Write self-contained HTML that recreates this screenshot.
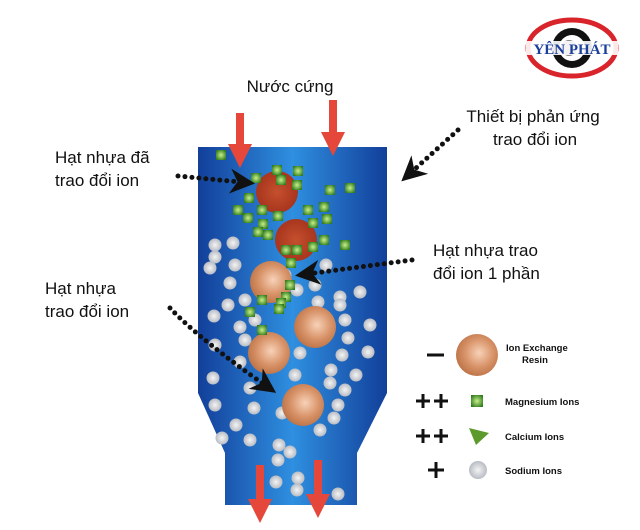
<!DOCTYPE html>
<html><head><meta charset="utf-8"><style>
body{margin:0;background:#fff;width:640px;height:530px;overflow:hidden}
svg{display:block}
text{font-family:"Liberation Sans","DejaVu Sans",sans-serif;fill:#111}
</style></head><body>
<svg width="640" height="530" viewBox="0 0 640 530" xmlns="http://www.w3.org/2000/svg">
<defs>
<linearGradient id="vg" x1="0" x2="1" y1="0" y2="0">
<stop offset="0" stop-color="#123f9a"/><stop offset="0.5" stop-color="#2f8fe0"/><stop offset="1" stop-color="#123f9a"/>
</linearGradient>
<radialGradient id="dr" cx="0.5" cy="0.5" r="0.5"><stop offset="0" stop-color="#c4502e"/><stop offset="1" stop-color="#a8351d"/></radialGradient>
<radialGradient id="lr" cx="0.55" cy="0.45" r="0.55"><stop offset="0" stop-color="#f7d2b8"/><stop offset="0.6" stop-color="#d9946a"/><stop offset="1" stop-color="#c0764a"/></radialGradient>
<radialGradient id="na" cx="0.5" cy="0.5" r="0.5"><stop offset="0" stop-color="#f4f4f4"/><stop offset="1" stop-color="#b8bcc4"/></radialGradient>
<radialGradient id="mg" cx="0.5" cy="0.5" r="0.6"><stop offset="0" stop-color="#c8f08a"/><stop offset="1" stop-color="#2e7a1c"/></radialGradient>
<marker id="ah" viewBox="0 0 10 10" refX="8" refY="5" markerWidth="5" markerHeight="5" orient="auto"><path d="M0,0 L10,5 L0,10 L3,5z" fill="#111"/></marker>
</defs>
<!-- logo -->
<g transform="translate(572,48)">
<ellipse cx="0" cy="0" rx="44" ry="28" fill="none" stroke="#d8242a" stroke-width="5"/>
<circle cx="0" cy="0" r="20" fill="#111"/><circle cx="0" cy="0" r="13" fill="#fff"/><circle cx="-3" cy="0" r="8" fill="#888"/>
<rect x="-46" y="-7" width="92" height="14" fill="#fff" opacity="0.9"/>
<text x="0" y="6" text-anchor="middle" style="font-family:'Liberation Serif',serif;font-weight:bold;font-size:15px;fill:#1c3f9c">YÊN PHÁT</text>
</g>
<!-- vessel -->
<path d="M198,147 L387,147 L387,393 L357,453 L357,505 L225,505 L225,453 L198,393 Z" fill="url(#vg)"/>
<g id="parts"></g>
<!-- resins -->
<circle cx="277" cy="192" r="21" fill="url(#dr)"/>
<circle cx="296" cy="240" r="21" fill="url(#dr)"/>
<circle cx="271" cy="282" r="21" fill="url(#lr)"/>
<circle cx="315" cy="327" r="21" fill="url(#lr)"/>
<circle cx="269" cy="353" r="21" fill="url(#lr)"/>
<circle cx="303" cy="405" r="21" fill="url(#lr)"/>
<g id="parts2"></g>
<!-- red arrows -->
<g fill="#e5473a">
<rect x="236" y="113" width="8" height="35"/><path d="M228,144 L252,144 L240,168Z"/>
<rect x="329" y="100" width="8" height="36"/><path d="M321,132 L345,132 L333,156Z"/>
<rect x="256" y="465" width="8" height="38"/><path d="M248,499 L272,499 L260,523Z"/>
<rect x="314" y="460" width="8" height="38"/><path d="M306,494 L330,494 L318,518Z"/>
</g>
<!-- dotted leaders -->
<g stroke="#111" stroke-width="5" stroke-linecap="round" stroke-dasharray="0 7" fill="none">
<path d="M178,176 L250,183" marker-end="url(#ah)"/>
<path d="M458,130 L405,178" marker-end="url(#ah)"/>
<path d="M412,260 L300,275" marker-end="url(#ah)"/>
<path d="M170,308 Q200,340 272,390" marker-end="url(#ah)"/>
</g>
<!-- labels -->
<g style="font-size:17px">
<text x="290" y="92" text-anchor="middle">Nước cứng</text>
<text x="533" y="122" text-anchor="middle">Thiết bị phản ứng</text>
<text x="535" y="145" text-anchor="middle">trao đổi ion</text>
<text x="55" y="163">Hạt nhựa đã</text>
<text x="55" y="186">trao đổi ion</text>
<text x="433" y="256">Hạt nhựa trao</text>
<text x="433" y="279">đổi ion 1 phần</text>
<text x="45" y="294">Hạt nhựa</text>
<text x="45" y="317">trao đổi ion</text>
</g>
<!-- legend -->
<g stroke="#111" stroke-width="3">
<line x1="427" y1="355" x2="444" y2="355"/>
<line x1="416" y1="401" x2="430" y2="401"/><line x1="423" y1="394" x2="423" y2="408"/>
<line x1="434" y1="401" x2="448" y2="401"/><line x1="441" y1="394" x2="441" y2="408"/>
<line x1="416" y1="436" x2="430" y2="436"/><line x1="423" y1="429" x2="423" y2="443"/>
<line x1="434" y1="436" x2="448" y2="436"/><line x1="441" y1="429" x2="441" y2="443"/>
<line x1="428" y1="470" x2="444" y2="470"/><line x1="436" y1="462" x2="436" y2="478"/>
</g>
<circle cx="477" cy="355" r="21" fill="url(#lr)"/>
<rect x="471" y="395" width="12" height="12" fill="url(#mg)"/>
<path d="M469,428 L489,433 L476,445Z" fill="#5c9a2c"/>
<circle cx="478" cy="470" r="9" fill="url(#na)"/>
<g style="font-size:9.5px;font-weight:bold;fill:#222">
<text x="506" y="351">Ion Exchange</text>
<text x="522" y="363">Resin</text>
<text x="505" y="405">Magnesium Ions</text>
<text x="505" y="440">Calcium Ions</text>
<text x="505" y="474">Sodium Ions</text>
</g>
</svg>
<script>
var ns="http://www.w3.org/2000/svg";
var na=[[215,245],[233,243],[215,257],[235,265],[210,268],[230,283],[228,305],[245,300],[214,316],[240,327],[255,320],[245,340],[215,345],[240,362],[213,378],[250,388],[215,405],[236,425],[250,440],[222,438],[285,275],[297,290],[315,285],[340,297],[360,292],[340,305],[326,265],[318,302],[345,320],[370,325],[348,338],[342,355],[368,352],[300,353],[295,375],[331,370],[330,383],[356,375],[345,390],[338,405],[334,418],[320,430],[279,445],[278,460],[290,452],[298,478],[276,482],[297,490],[338,494],[254,408],[282,413]];
var mg=[[221,155],[277,170],[298,171],[297,185],[256,178],[249,198],[238,210],[248,218],[262,210],[263,224],[258,232],[268,235],[278,216],[308,210],[324,207],[327,219],[313,223],[324,240],[313,247],[297,250],[291,263],[290,285],[286,297],[281,303],[279,309],[262,300],[250,312],[262,330],[330,190],[350,188],[345,245],[281,180],[286,250]];
var g=document.getElementById("parts");
na.forEach(function(p){var c=document.createElementNS(ns,"circle");c.setAttribute("cx",p[0]);c.setAttribute("cy",p[1]);c.setAttribute("r",6.5);c.setAttribute("fill","url(#na)");g.appendChild(c);});
var g2=document.getElementById("parts2");
mg.forEach(function(p){var r=document.createElementNS(ns,"rect");r.setAttribute("x",p[0]-5);r.setAttribute("y",p[1]-5);r.setAttribute("width",10);r.setAttribute("height",10);r.setAttribute("fill","url(#mg)");g2.appendChild(r);});
</script>
</body></html>
